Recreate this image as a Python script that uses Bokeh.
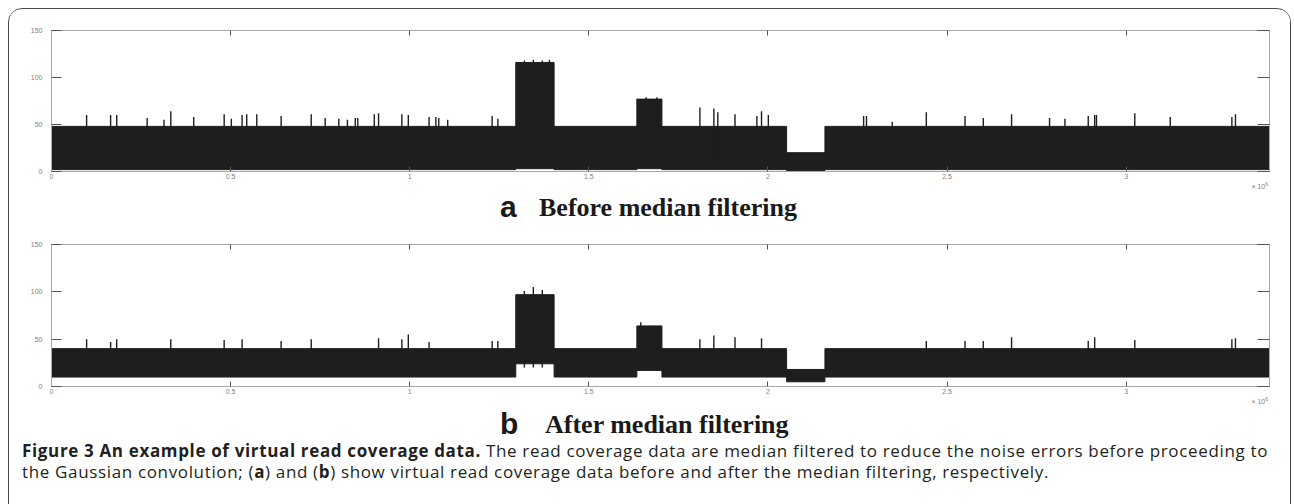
from bokeh.plotting import figure
from bokeh.models import LinearAxis, FixedTicker, Div, Range1d, ColumnDataSource
from bokeh.layouts import column
from bokeh.embed import file_html
from bokeh.resources import INLINE

# ---------------- data (x in units of 10^6 bp, y = read coverage) ----------------
seg_left = [0.0, 1.296, 1.403, 1.634, 1.704, 2.052, 2.159]
seg_right = [1.296, 1.403, 1.634, 1.704, 2.052, 2.159, 3.4]
a_top = [48, 116, 48, 77, 48, 20, 48]
a_bottom = [2, 3, 2, 3, 2, 1, 2]
b_top = [40, 97, 40, 64, 40, 18, 40]
b_bottom = [10, 24, 10, 17, 10, 5, 10]

a_spike_x = [0.098, 0.165, 0.182, 0.267, 0.314, 0.333, 0.397, 0.482, 0.502, 0.532,
             0.545, 0.573, 0.641, 0.725, 0.764, 0.802, 0.826, 0.848, 0.855, 0.901,
             0.913, 0.978, 0.996, 1.054, 1.073, 1.081, 1.106, 1.230, 1.246,
             1.320, 1.345, 1.370, 1.390, 1.660, 1.690,
             1.810, 1.849, 1.860, 1.908, 1.969, 1.982, 2.001, 2.267, 2.275,
             2.347, 2.442, 2.550, 2.601, 2.680, 2.786, 2.829, 2.894, 2.912, 2.917,
             3.024, 3.123, 3.295, 3.305]
a_spike_y = [60, 60, 60, 57, 55, 64, 58, 61, 56, 60,
             61, 61, 59, 61, 57, 56, 55, 57, 57, 61,
             62, 61, 60, 58, 58, 57, 55, 59, 56,
             118, 119, 118, 119, 79, 79,
             68, 67, 63, 61, 59, 64, 60, 59, 59,
             53, 63, 59, 57, 61, 57, 56, 59, 60, 60,
             62, 58, 58, 61]

b_spike_x = [0.098, 0.165, 0.182, 0.333, 0.482, 0.532, 0.641, 0.725, 0.913, 0.978,
             0.996, 1.054, 1.230, 1.246, 1.320, 1.345, 1.370, 1.645, 1.810, 1.849,
             1.908, 1.982, 2.442, 2.550, 2.601, 2.680, 2.894, 2.912, 3.024, 3.295, 3.305]
b_spike_y = [50, 47, 50, 50, 49, 50, 48, 50, 51, 50,
             55, 47, 48, 48, 101, 105, 102, 68, 50, 54,
             52, 51, 48, 48, 48, 52, 48, 52, 49, 50, 51]

x_tick_vals = [0, 0.5, 1, 1.5, 2, 2.5, 3]
x_tick_labels = ["0", "0.5", "1", "1.5", "2", "2.5", "3"]
y_tick_vals = [0, 50, 100, 150]
y_tick_labels = ["0", "50", "100", "150"]

INK = "#1e1e1e"
TICK_FONT = "Liberation Sans"


def panel(top, bottom, sx, sy, base, height, b_top_px, b_bot_px):
    p = figure(width=1281, height=height, x_range=Range1d(0, 3.4), y_range=Range1d(0, 150),
               output_backend="svg", toolbar_location=None,
               min_border_left=42, min_border_right=21,
               min_border_top=b_top_px, min_border_bottom=b_bot_px)
    p.xgrid.visible = False
    p.ygrid.visible = False
    p.outline_line_color = "#a8a8a8"
    p.outline_line_width = 1
    p.background_fill_color = "white"
    p.border_fill_color = "white"

    p.quad(left=seg_left, right=seg_right, bottom=bottom, top=top,
           fill_color=INK, line_color=INK, line_width=1)
    src = ColumnDataSource(dict(x=sx, y=sy, y0=[base] * len(sx)))
    p.segment(x0="x", y0="y0", x1="x", y1="y", source=src, line_color=INK, line_width=1.4)

    xl = dict(zip(x_tick_vals, x_tick_labels))
    yl = dict(zip(y_tick_vals, y_tick_labels))

    for ax in p.xaxis:
        ax.ticker = FixedTicker(ticks=x_tick_vals)
        ax.major_label_overrides = xl
        ax.major_tick_in = 5
        ax.major_tick_out = 0
        ax.minor_tick_line_color = None
        ax.axis_line_color = "#a8a8a8"
        ax.major_tick_line_color = "#555555"
        ax.major_label_text_font = TICK_FONT
        ax.major_label_text_font_size = "7px"
        ax.major_label_text_color = "#808080"
        ax.major_label_standoff = 2
    for ax in p.yaxis:
        ax.ticker = FixedTicker(ticks=y_tick_vals)
        ax.major_label_overrides = yl
        ax.major_tick_in = 10
        ax.major_tick_out = 0
        ax.minor_tick_line_color = None
        ax.axis_line_color = "#a8a8a8"
        ax.major_tick_line_color = "#555555"
        ax.major_label_text_font = TICK_FONT
        ax.major_label_text_font_size = "7px"
        ax.major_label_text_color = "#808080"
        ax.major_label_standoff = 9

    top_ax = LinearAxis(ticker=FixedTicker(ticks=x_tick_vals), major_tick_in=5, major_tick_out=0,
                        minor_tick_line_color=None, axis_line_color="#a8a8a8",
                        major_tick_line_color="#555555", major_label_text_color=None,
                        major_label_text_font_size="1px", major_label_standoff=0)
    right_ax = LinearAxis(ticker=FixedTicker(ticks=y_tick_vals), major_tick_in=12, major_tick_out=0,
                          minor_tick_line_color=None, axis_line_color="#a8a8a8",
                          major_tick_line_color="#555555", major_label_text_color=None,
                          major_label_text_font_size="1px", major_label_standoff=0)
    p.add_layout(top_ax, "above")
    p.add_layout(right_ax, "right")
    return p


pa = panel(a_top, a_bottom, a_spike_x, a_spike_y, 10, 172, 21, 10)
pb = panel(b_top, b_bottom, b_spike_x, b_spike_y, 20, 164, 12, 10)


def title_div(letter, text, gap, h, base):
    html = ('<div style="width:1281px;height:%dpx;position:relative;">'
            '<span style="position:absolute;right:22px;top:0px;font-family:\'Liberation Sans\';'
            'font-size:7px;line-height:7px;color:#808080;white-space:nowrap;">\u00d7 10<sup style="font-size:5px;">6</sup></span>'
            '<span style="position:absolute;left:491px;top:%.1fpx;font-family:\'Liberation Sans\';'
            'font-weight:bold;font-size:30px;line-height:30px;color:#1a1a1a;">%s</span>'
            '<span style="position:absolute;left:%dpx;top:%.1fpx;font-family:\'Liberation Serif\';'
            'font-weight:bold;font-size:26px;line-height:26px;color:#1a1a1a;white-space:nowrap;">%s</span>'
            '</div>') % (h, base - 0.8465 * 30, letter, 492 + gap, base - 0.8375 * 26, text)
    return Div(text=html, width=1281, height=h, margin=0)


da = title_div("a", "Before median filtering", 38, 51, 36)
db = title_div("b", "After median filtering", 44, 42, 38)

caption_html = ('<div style="width:1270px;padding-left:13px;padding-top:2px;font-family:\'Open Sans\';font-size:17px;'
                'letter-spacing:0.65px;line-height:21px;color:#231f20;white-space:nowrap;">'
                '<b>Figure 3 An example of virtual read coverage data.</b> The read coverage data are '
                'median filtered to reduce the noise errors before proceeding to<br>'
                'the Gaussian convolution; (<b>a</b>) and (<b>b</b>) show virtual read coverage data '
                'before and after the median filtering, respectively.</div>')
dc = Div(text=caption_html, width=1281, height=90, margin=0)

layout = column(pa, da, pb, db, dc, spacing=0,
                styles={"margin-left": "8px", "margin-top": "8px",
                        "border": "1.3px solid #4a4a4a", "border-radius": "14px",
                        "background": "white", "overflow": "hidden"})

open("out.html", "w").write(file_html(layout, INLINE))
